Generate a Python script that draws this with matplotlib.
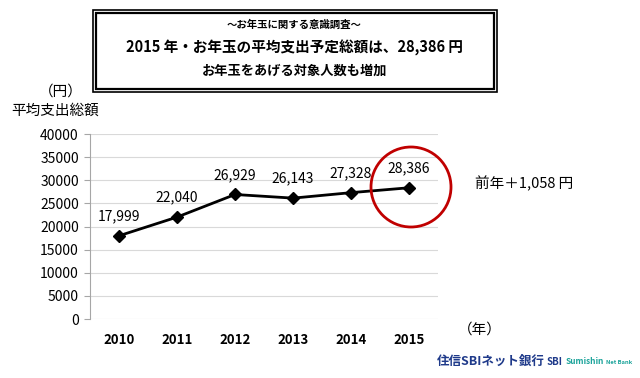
import matplotlib
matplotlib.use("Agg")
import matplotlib.pyplot as plt
from matplotlib.patches import Rectangle

plt.rcParams["font.family"] = ["Noto Sans CJK JP", "DejaVu Sans"]

years = ["2010", "2011", "2012", "2013", "2014", "2015"]
totals = [17999, 22040, 26929, 26143, 27328, 28386]
labels = ["17,999", "22,040", "26,929", "26,143", "27,328", "28,386"]
yticks = [0, 5000, 10000, 15000, 20000, 25000, 30000, 35000, 40000]

W, H = 640, 378


def fx(px):
    return px / W


def fy(py):
    return 1 - py / H


fig = plt.figure(figsize=(6.4, 3.78), dpi=100)
ax = fig.add_axes([0.1406, 0.156, 0.544, 0.4894])

x = list(range(len(years)))
ax.plot(x, totals, color="black", lw=2, marker="D", ms=6, zorder=3)
for xi, v, lab in zip(x, totals, labels):
    ax.annotate(lab, (xi, v), xytext=(0, 9), textcoords="offset points",
                ha="center", va="bottom", fontsize=10)

ax.set_xlim(-0.5, len(years) - 0.5)
ax.set_ylim(0, 40000)
ax.set_yticks(yticks)
ax.set_yticklabels([str(t) for t in yticks], fontsize=10)
ax.set_xticks(x)
ax.set_xticklabels(years, fontsize=9.5, fontweight="bold")
ax.grid(axis="y", color="#d9d9d9", lw=0.8)
ax.set_axisbelow(True)
for s in ["top", "right", "bottom"]:
    ax.spines[s].set_visible(False)
ax.spines["left"].set_color("#a6a6a6")
ax.tick_params(axis="x", length=0, pad=10)
ax.tick_params(axis="y", length=4, color="#a6a6a6", pad=4)

# red circle around 2015
circ = plt.Circle((411, H - 187), 40, transform=None, fill=False,
                  ec="#c00000", lw=2)
fig.patches.append(circ)

fig.text(0.742, 0.515, "前年＋1,058 円", fontsize=10.5, va="center")
fig.text(0.06, fy(92), "（円）", fontsize=10.5, va="center")
fig.text(0.018, fy(111), "平均支出総額", fontsize=10.5, va="center")
fig.text(0.715, fy(330), "（年）", fontsize=10.5, va="center")

# title box with double border
fig.patches.append(Rectangle((fx(93), fy(92)), fx(404), 82 / H,
                             transform=fig.transFigure, fill=False, ec="black", lw=1.2))
fig.patches.append(Rectangle((fx(96), fy(89)), fx(398), 76 / H,
                             transform=fig.transFigure, fill=False, ec="black", lw=1.6))
fig.text(0.46, fy(25), "～お年玉に関する意識調査～", ha="center", va="center",
         fontsize=7.5, fontweight="bold")
fig.text(0.46, fy(48), "2015 年・お年玉の平均支出予定総額は、28,386 円", ha="center",
         va="center", fontsize=10.5, fontweight="bold")
fig.text(0.46, fy(71), "お年玉をあげる対象人数も増加", ha="center", va="center",
         fontsize=9.5, fontweight="bold")

# bank logo text
fig.text(fx(437), fy(361), "住信SBIネット銀行", fontsize=9, fontweight="bold",
         color="#1f3a8a", va="center")
fig.text(fx(547), fy(362), "SBI", fontsize=7, fontweight="bold", style="italic",
         color="#1f3a8a", va="center")
fig.text(fx(566), fy(362), "Sumishin", fontsize=6, fontweight="bold", style="italic",
         color="#1aa39a", va="center")
fig.text(fx(606), fy(363), "Net Bank", fontsize=4.2, fontweight="bold",
         color="#1aa39a", va="center")

fig.savefig("out.png", dpi=100)
